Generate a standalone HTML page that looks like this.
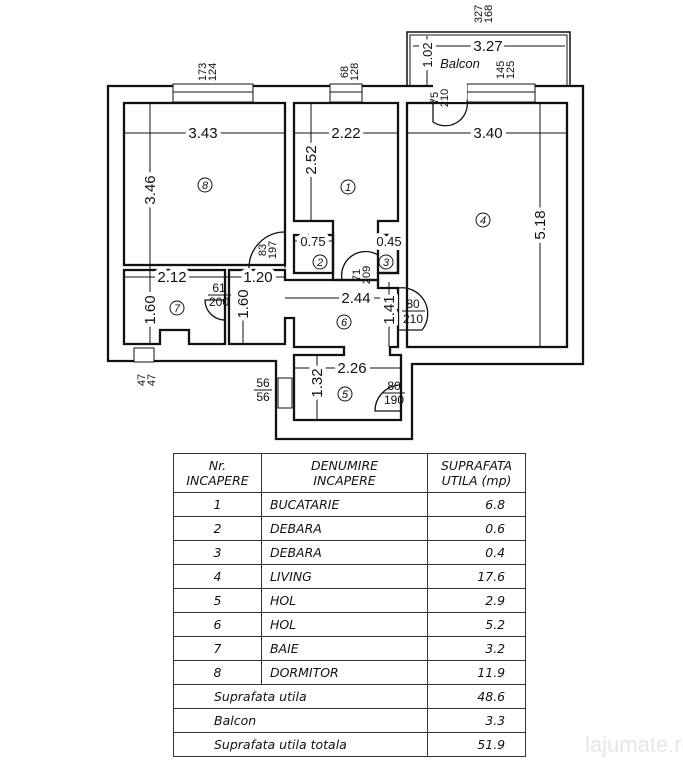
<!DOCTYPE html>
<html><head><meta charset="utf-8"><style>
body{margin:0;background:#fff;width:683px;height:768px;overflow:hidden;font-family:"Liberation Sans",sans-serif}
svg{position:absolute;left:0;top:0}
table{position:absolute;left:173px;top:453px;width:353px;border-collapse:collapse;font-family:"DejaVu Sans","Liberation Sans",sans-serif;font-style:italic;font-size:12.5px;color:#111}
td{border:1.5px solid #333;height:23px;padding:0}
</style></head><body>
<svg width="683" height="768" viewBox="0 0 683 768">
<g fill="none" stroke="#111" stroke-width="2.3">
<rect x="407" y="32" width="163" height="54" stroke-width="1.5"/>
<rect x="410" y="35" width="157" height="51" stroke-width="1"/>
<polygon points="108,86 583,86 583,364 412,364 412,439 276,439 276,361 108,361" fill="#fff"/>
<rect x="124" y="103" width="161" height="162"/>
<polygon points="294,103 398,103 398,221 378,221 378,235 398,235 398,273 378,273 378,280 333,280 333,273 333,221 294,221"/>
<rect x="294" y="235" width="39" height="38"/>
<rect x="378" y="235" width="20" height="38"/>
<rect x="407" y="103" width="160" height="244"/>
<polygon points="124,270 225,270 225,344 189,344 189,330 160,330 160,344 124,344"/>
<polygon points="229,270 285,270 285,280 378,280 378,288 398,288 398,347 390,347 390,355 401,355 401,420 294,420 294,355 344,355 344,347 294,347 294,318 285,318 285,344 229,344"/>
</g>
<g stroke="#111" stroke-width="1" fill="#fff">
<rect x="173" y="84" width="80" height="18"/><line x1="173" y1="92" x2="253" y2="92"/>
<rect x="330" y="84" width="32" height="18"/><line x1="330" y1="92" x2="362" y2="92"/>
<rect x="467" y="84" width="68" height="18"/><line x1="467" y1="92" x2="535" y2="92"/>
<rect x="433" y="84" width="34" height="18" stroke="none"/>
<rect x="134" y="348" width="20" height="14"/>
<rect x="278" y="378" width="14" height="30"/>
</g>
<g fill="none" stroke="#111" stroke-width="1.3">
<path d="M433,100 L433,122 A22,22 0 0 0 467,100"/>
<path d="M285,268 L285,232 A36,36 0 0 0 249,268"/>
<path d="M225,300 L205,300 A20,20 0 0 0 225,320"/>
<path d="M398,288 A26,26 0 0 1 422,330 L398,330"/>
<path d="M401,385 A26,26 0 0 0 375,411 L401,411"/>
<path d="M378,255 A24,24 0 0 0 342,280"/>
</g>
<g stroke="#111" stroke-width="1">
<line x1="124" y1="133" x2="285" y2="133"/><line x1="294" y1="133" x2="398" y2="133"/><line x1="407" y1="133" x2="567" y2="133"/>
<line x1="150" y1="103" x2="150" y2="268"/><line x1="311" y1="103" x2="311" y2="221"/><line x1="540" y1="103" x2="540" y2="347"/>
<line x1="124" y1="277" x2="285" y2="277"/><line x1="285" y1="298" x2="398" y2="298"/>
<line x1="150" y1="268" x2="150" y2="344"/><line x1="243" y1="270" x2="243" y2="344"/><line x1="389" y1="282" x2="389" y2="347"/>
<line x1="294" y1="368" x2="401" y2="368"/><line x1="317" y1="355" x2="317" y2="420"/>
<line x1="413" y1="46" x2="565" y2="46"/><line x1="427" y1="36" x2="427" y2="86"/>
<line x1="294" y1="241" x2="333" y2="241"/><line x1="378" y1="241" x2="398" y2="241"/>
</g>
<g fill="#111" font-size="15" text-anchor="middle" font-family="Liberation Sans,sans-serif">
<g paint-order="stroke" stroke="#fff" stroke-width="8" stroke-linejoin="round">
<text x="203" y="138">3.43</text><text x="346" y="138">2.22</text><text x="488" y="138">3.40</text>
<text x="172" y="282">2.12</text><text x="258" y="282">1.20</text><text x="356" y="303">2.44</text>
<text x="352" y="373">2.26</text><text x="488" y="51">3.27</text>
<text x="313" y="246" font-size="13">0.75</text><text x="389" y="246" font-size="13">0.45</text>
<text transform="translate(155,190) rotate(-90)">3.46</text>
<text transform="translate(316,160) rotate(-90)">2.52</text>
<text transform="translate(545,225) rotate(-90)">5.18</text>
<text transform="translate(155,310) rotate(-90)">1.60</text>
<text transform="translate(248,304) rotate(-90)">1.60</text>
<text transform="translate(394,310) rotate(-90)">1.41</text>
<text transform="translate(322,383) rotate(-90)">1.32</text>
<text transform="translate(432,55) rotate(-90)" font-size="13">1.02</text>
</g>
<text x="460" y="68" font-style="italic" font-size="13">Balcon</text>
<g fill="none" stroke="#111">
<circle cx="205" cy="185" r="7"/><circle cx="348" cy="187" r="7"/><circle cx="483" cy="220" r="7"/>
<circle cx="320" cy="262" r="7"/><circle cx="386" cy="262" r="7"/><circle cx="177" cy="308" r="7"/>
<circle cx="344" cy="322" r="7"/><circle cx="345" cy="394" r="7"/>
</g>
<g font-size="11" font-style="italic">
<text x="205" y="189">8</text><text x="348" y="191">1</text><text x="483" y="224">4</text>
<text x="320" y="266">2</text><text x="386" y="266">3</text><text x="177" y="312">7</text>
<text x="344" y="326">6</text><text x="345" y="398">5</text>
</g>
<g font-size="12">
<text x="219" y="292">61</text><text x="219" y="306">200</text><line x1="208" y1="295" x2="231" y2="295" stroke="#111"/>
<text x="413" y="308">80</text><text x="413" y="323">210</text><line x1="402" y1="311" x2="425" y2="311" stroke="#111"/>
<text x="394" y="390">80</text><text x="394" y="404">190</text><line x1="383" y1="393" x2="405" y2="393" stroke="#111"/>
<text x="263" y="387">56</text><text x="263" y="401">56</text><line x1="254" y1="390" x2="272" y2="390" stroke="#111"/>
<g font-size="11">
<text transform="translate(266,250) rotate(-90)">83</text><text transform="translate(276,250) rotate(-90)">197</text>
<text transform="translate(360,275) rotate(-90)">71</text><text transform="translate(370,275) rotate(-90)">209</text>
<text transform="translate(438,98) rotate(-90)">75</text><text transform="translate(448,98) rotate(-90)">210</text>
<text transform="translate(145,380) rotate(-90)">47</text><text transform="translate(155,380) rotate(-90)">47</text>
<text transform="translate(206,72) rotate(-90)">173</text><text transform="translate(216,72) rotate(-90)">124</text>
<text transform="translate(348,72) rotate(-90)">68</text><text transform="translate(358,72) rotate(-90)">128</text>
<text transform="translate(504,70) rotate(-90)">145</text><text transform="translate(514,70) rotate(-90)">125</text>
<text transform="translate(482,14) rotate(-90)">327</text><text transform="translate(492,14) rotate(-90)">168</text>
</g></g>
</g>
<text x="585" y="752" font-size="22" fill="#e2e7ea" font-family="Liberation Sans,sans-serif">lajumate.ro</text>
</svg>
<table>
<tr style="height:39px"><td style="width:87px;text-align:center">Nr.<br>INCAPERE</td><td style="text-align:center">DENUMIRE<br>INCAPERE</td><td style="width:97px;text-align:center">SUPRAFATA<br>UTILA (mp)</td></tr>
<tr><td align="center">1</td><td>&nbsp;&nbsp;BUCATARIE</td><td align="right">6.8&nbsp;&nbsp;&nbsp;&nbsp;&nbsp;</td></tr>
<tr><td align="center">2</td><td>&nbsp;&nbsp;DEBARA</td><td align="right">0.6&nbsp;&nbsp;&nbsp;&nbsp;&nbsp;</td></tr>
<tr><td align="center">3</td><td>&nbsp;&nbsp;DEBARA</td><td align="right">0.4&nbsp;&nbsp;&nbsp;&nbsp;&nbsp;</td></tr>
<tr><td align="center">4</td><td>&nbsp;&nbsp;LIVING</td><td align="right">17.6&nbsp;&nbsp;&nbsp;&nbsp;&nbsp;</td></tr>
<tr><td align="center">5</td><td>&nbsp;&nbsp;HOL</td><td align="right">2.9&nbsp;&nbsp;&nbsp;&nbsp;&nbsp;</td></tr>
<tr><td align="center">6</td><td>&nbsp;&nbsp;HOL</td><td align="right">5.2&nbsp;&nbsp;&nbsp;&nbsp;&nbsp;</td></tr>
<tr><td align="center">7</td><td>&nbsp;&nbsp;BAIE</td><td align="right">3.2&nbsp;&nbsp;&nbsp;&nbsp;&nbsp;</td></tr>
<tr><td align="center">8</td><td>&nbsp;&nbsp;DORMITOR</td><td align="right">11.9&nbsp;&nbsp;&nbsp;&nbsp;&nbsp;</td></tr>
<tr><td colspan="2" style="padding-left:40px">Suprafata utila</td><td align="right">48.6&nbsp;&nbsp;&nbsp;&nbsp;&nbsp;</td></tr>
<tr><td colspan="2" style="padding-left:40px">Balcon</td><td align="right">3.3&nbsp;&nbsp;&nbsp;&nbsp;&nbsp;</td></tr>
<tr><td colspan="2" style="padding-left:40px">Suprafata utila totala</td><td align="right">51.9&nbsp;&nbsp;&nbsp;&nbsp;&nbsp;</td></tr>
</table>
</body></html>
